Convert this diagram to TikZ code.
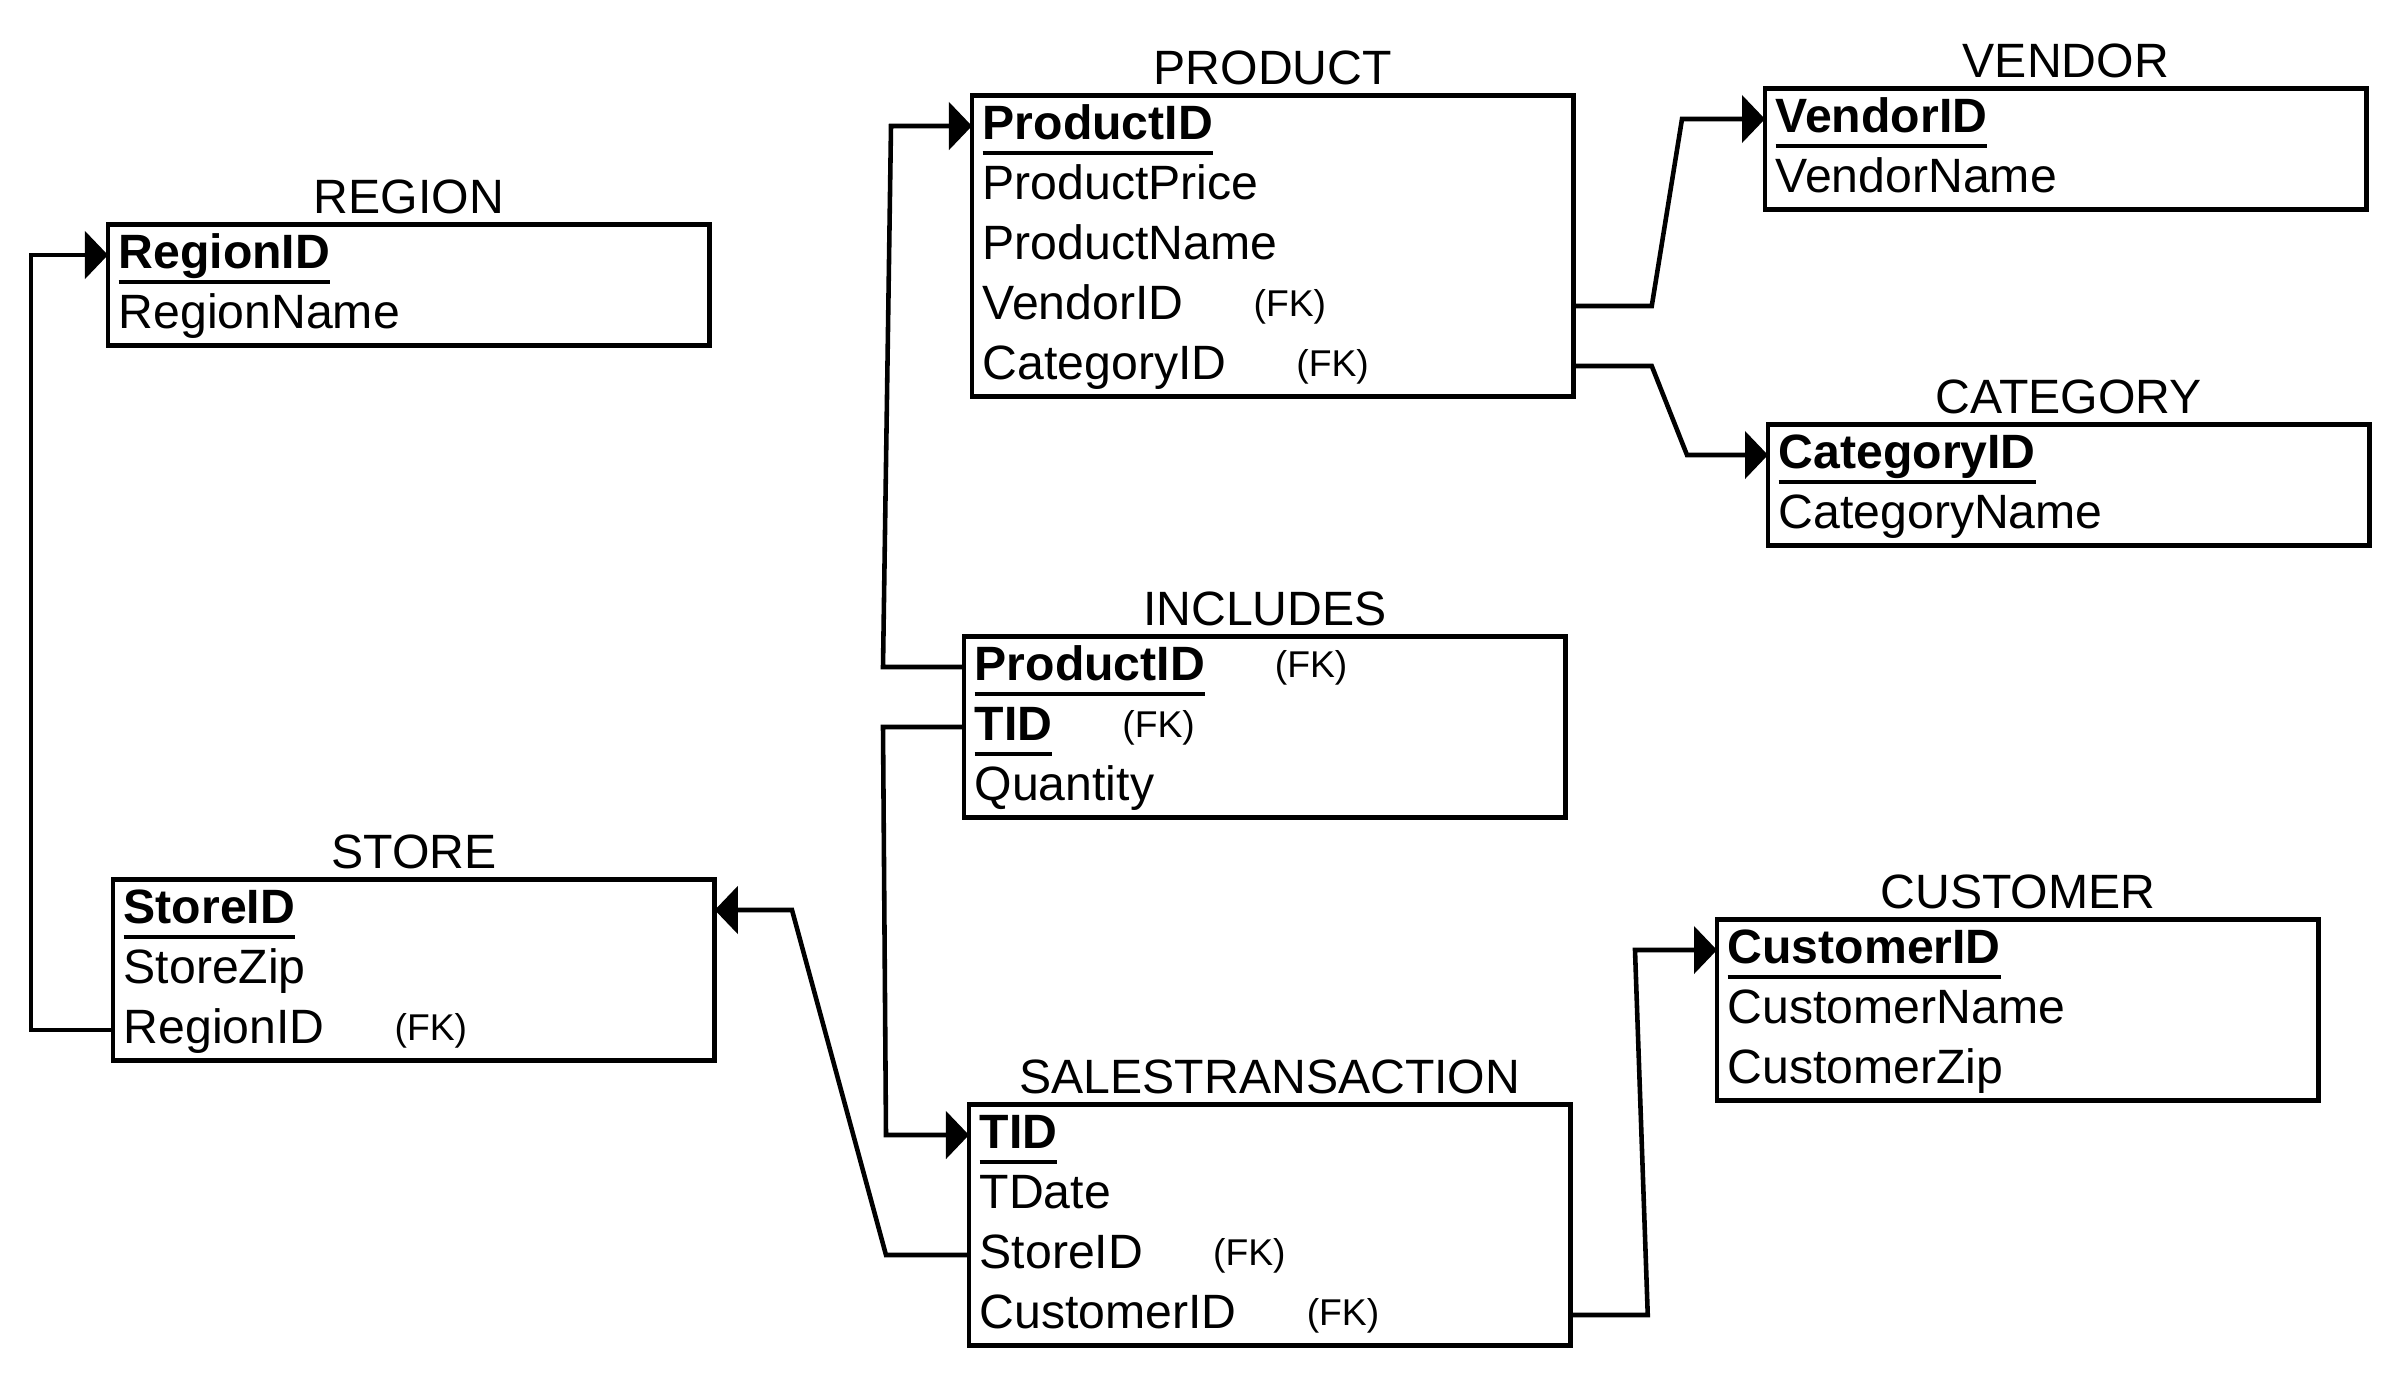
\documentclass[tikz,border=0pt]{standalone}
\usepackage{fontspec}
\setmainfont{Liberation Sans}
\usepackage{tikz}
\usetikzlibrary{arrows.meta,positioning,fit}
\newcommand{\attrfont}{\fontsize{13.7pt}{16pt}\selectfont}
\newcommand{\fkfont}{\fontsize{10.6pt}{12pt}\selectfont}
\newsavebox{\pkbox}
\newcommand{\pkey}[1]{\sbox{\pkbox}{\textbf{#1}}\rlap{\vrule width\wd\pkbox height -0.23em depth 0.33em}\usebox{\pkbox}}
\newcommand{\fk}{\hspace{0.70cm}\raisebox{0.9pt}{\fkfont (FK)}}

\begin{document}
\begin{tikzpicture}[x=0.01cm, y=-0.01cm,
    tbl/.style={draw, line width=1.4pt, inner sep=0pt},
    row/.style={anchor=west, text width=5.8cm, inner xsep=0.1cm, inner ysep=0pt,
        minimum height=0.6cm, text height=0.38cm, text depth=0.11cm,
        align=left, font=\attrfont},
    title/.style={anchor=south, inner sep=2pt, font=\attrfont},
    fkarr/.style={line width=1.3pt, -{Triangle[length=0.23cm, width=0.47cm]}}
]
    \useasboundingbox (0,0) rectangle (2396,1372);

    % REGION
    \node[row] (regionID) at (108,255) {\pkey{RegionID}};
    \node[row] (regionName) at (108,315) {RegionName};
    \node[tbl, fit=(regionID)(regionName)] (region) {};
    \node[title] (regionT) at (region.north) {REGION};

    % PRODUCT
    \node[row] (prodID) at (972,126) {\pkey{ProductID}};
    \node[row] (prodPrice) at (972,186) {ProductPrice};
    \node[row] (prodName) at (972,246) {ProductName};
    \node[row] (prodVendor) at (972,306) {VendorID\fk};
    \node[row] (prodCat) at (972,366) {CategoryID\fk};
    \node[tbl, fit=(prodID)(prodCat)] (product) {};
    \node[title] (productT) at (product.north) {PRODUCT};

    % VENDOR
    \node[row] (vendorID) at (1765,119) {\pkey{VendorID}};
    \node[row] (vendorName) at (1765,179) {VendorName};
    \node[tbl, fit=(vendorID)(vendorName)] (vendor) {};
    \node[title] (vendorT) at (vendor.north) {VENDOR};

    % CATEGORY
    \node[row] (catID) at (1768,455) {\pkey{CategoryID}};
    \node[row] (catName) at (1768,515) {CategoryName};
    \node[tbl, fit=(catID)(catName)] (category) {};
    \node[title] (categoryT) at (category.north) {CATEGORY};

    % INCLUDES
    \node[row] (incProd) at (964,667) {\pkey{ProductID}\fk};
    \node[row] (incTID) at (964,727) {\pkey{TID}\fk};
    \node[row] (incQty) at (964,787) {Quantity};
    \node[tbl, fit=(incProd)(incQty)] (includes) {};
    \node[title] (includesT) at (includes.north) {INCLUDES};

    % STORE
    \node[row] (storeID) at (113,910) {\pkey{StoreID}};
    \node[row] (storeZip) at (113,970) {StoreZip};
    \node[row] (storeRegion) at (113,1030) {RegionID\fk};
    \node[tbl, fit=(storeID)(storeRegion)] (store) {};
    \node[title] (storeT) at (store.north) {STORE};

    % CUSTOMER
    \node[row] (custID) at (1717,950) {\pkey{CustomerID}};
    \node[row] (custName) at (1717,1010) {CustomerName};
    \node[row] (custZip) at (1717,1070) {CustomerZip};
    \node[tbl, fit=(custID)(custZip)] (customer) {};
    \node[title] (customerT) at (customer.north) {CUSTOMER};

    % SALESTRANSACTION
    \node[row] (stTID) at (969,1135) {\pkey{TID}};
    \node[row] (stDate) at (969,1195) {TDate};
    \node[row] (stStore) at (969,1255) {StoreID\fk};
    \node[row] (stCust) at (969,1315) {CustomerID\fk};
    \node[tbl, fit=(stTID)(stCust)] (sales) {};
    \node[title] (salesT) at (sales.north) {SALESTRANSACTION};

    % foreign keys
    \draw[fkarr] (storeRegion.west) -- ++(-82,0) |- (regionID.west);
    \draw[fkarr] (incProd.west) -- ++(-81,0) -- (891,126) -- (prodID.west);
    \draw[fkarr] (incTID.west) -- ++(-81,0) -- (886,1135) -- (stTID.west);
    \draw[fkarr] (stStore.west) -- ++(-83,0) -- (792,910) -- (storeID.east);
    \draw[fkarr] (prodVendor.east) -- ++(78,0) -- (1682,119) -- (vendorID.west);
    \draw[fkarr] (prodCat.east) -- ++(78,0) -- (1687,455) -- (catID.west);
    \draw[fkarr] (stCust.east) -- ++(77,0) -- (1635,950) -- (custID.west);
\end{tikzpicture}
\end{document}
